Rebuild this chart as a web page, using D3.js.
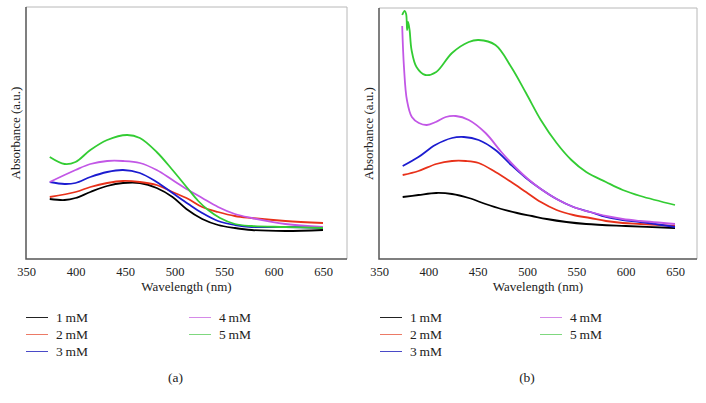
<!DOCTYPE html>
<html>
<head>
<meta charset="utf-8">
<script src="https://cdn.jsdelivr.net/npm/d3@7"></script>
<style>
  body { margin: 0; background: #fff; }
</style>
</head>
<body>
<script>
const FONT = "'Liberation Serif', 'DejaVu Serif', serif";

// wavelength ticks (nm)
const xTicks = [350, 400, 450, 500, 550, 600, 650];
const seriesNames = ["1\u2009mM", "2\u2009mM", "3\u2009mM", "4\u2009mM", "5\u2009mM"];
const colors = ["#000000", "#e8311a", "#1c1cd0", "#c257e6", "#33cc33"];
const legendColors = ["#222222", "#ec7a66", "#4a4ac8", "#d58ae8", "#7fd87f"];

// panel (a): [wavelength, absorbance a.u.]
const a1 = [[374,0.61],[389,0.60],[400,0.62],[415,0.68],[432,0.74],[448,0.77],[465,0.77],[482,0.72],[498,0.63],[512,0.51],[528,0.41],[544,0.35],[561,0.32],[578,0.30],[612,0.29],[650,0.30]];
const a2 = [[374,0.63],[400,0.68],[415,0.73],[432,0.77],[448,0.79],[465,0.78],[482,0.75],[498,0.68],[514,0.61],[528,0.53],[544,0.48],[561,0.44],[578,0.42],[612,0.39],[650,0.37]];
const a3 = [[374,0.78],[389,0.76],[400,0.77],[415,0.83],[432,0.88],[448,0.90],[465,0.87],[482,0.78],[498,0.67],[514,0.56],[528,0.47],[544,0.39],[561,0.35],[578,0.33],[612,0.33],[650,0.32]];
const a4 = [[374,0.78],[400,0.90],[415,0.96],[432,0.99],[448,0.99],[465,0.97],[482,0.90],[498,0.80],[514,0.70],[528,0.62],[544,0.53],[561,0.46],[578,0.42],[612,0.36],[650,0.33]];
const a5 = [[374,1.03],[389,0.96],[400,0.98],[415,1.10],[432,1.20],[452,1.25],[465,1.22],[482,1.08],[498,0.90],[513,0.72],[524,0.59],[534,0.50],[546,0.42],[561,0.36],[578,0.34],[612,0.33],[650,0.32]];

// panel (b)
const b1 = [[374,0.63],[390,0.65],[408,0.67],[424,0.66],[441,0.62],[458,0.56],[474,0.51],[490,0.47],[505,0.44],[520,0.41],[540,0.38],[560,0.36],[600,0.34],[650,0.32]];
const b2 = [[374,0.85],[390,0.89],[408,0.96],[424,0.99],[438,0.99],[451,0.97],[468,0.88],[484,0.78],[499,0.68],[514,0.58],[530,0.50],[547,0.45],[564,0.42],[580,0.39],[597,0.37],[615,0.36],[650,0.34]];
const b3 = [[374,0.94],[390,1.03],[407,1.15],[424,1.22],[436,1.23],[451,1.20],[468,1.10],[484,0.95],[499,0.82],[514,0.71],[530,0.61],[547,0.53],[564,0.48],[580,0.43],[597,0.40],[615,0.38],[650,0.33]];
const b4 = [[373.5,2.34],[375.3,1.93],[378.3,1.60],[383.3,1.43],[390.4,1.37],[398.5,1.35],[407.6,1.38],[417.7,1.43],[427.8,1.44],[441,1.40],[458,1.27],[474,1.08],[489,0.92],[501,0.81],[514,0.71],[530,0.61],[547,0.53],[564,0.48],[580,0.44],[597,0.41],[615,0.39],[650,0.36]];
const b5 = [[373.5,2.45],[376,2.49],[377.5,2.46],[378.5,2.30],[379.5,2.38],[381,2.30],[383,2.10],[388,1.93],[397,1.85],[408,1.88],[424,2.07],[441,2.18],[451,2.20],[468,2.15],[484,1.93],[499,1.67],[514,1.40],[530,1.17],[545,1.00],[560,0.88],[580,0.78],[597,0.70],[615,0.64],[650,0.55]];

const panels = [
  { id: "(a)", series: [a1, a2, a3, a4, a5], left: 26, right: 347, top: 7, x650: 323, legX: 26, leg2X: 189 },
  { id: "(b)", series: [b1, b2, b3, b4, b5], left: 379, right: 697, top: 8, x650: 675, legX: 380, leg2X: 540 }
];

const W = 706, H = 403, bottom = 259;

const svg = d3.select("body").append("svg")
  .attr("width", W).attr("height", H)
  .attr("font-family", FONT);

panels.forEach(function (p) {
  const x = d3.scaleLinear().domain([350, 650]).range([p.left, p.x650]);
  const y = d3.scaleLinear().domain([0, 2.53]).range([bottom + 1, 7]);

  // frame: light top/right, darker left/bottom
  svg.append("path")
    .attr("d", "M" + p.left + "," + p.top + "H" + p.right + "V" + bottom)
    .attr("fill", "none").attr("stroke", "#b8b8b8").attr("stroke-width", 1);
  svg.append("path")
    .attr("d", "M" + p.left + "," + p.top + "V" + bottom + "H" + p.right)
    .attr("fill", "none").attr("stroke", "#555").attr("stroke-width", 1.5);

  const ax = svg.append("g")
    .attr("transform", "translate(0," + bottom + ")")
    .call(d3.axisBottom(x).tickValues(xTicks).tickSize(0).tickPadding(8));
  ax.attr("font-family", FONT).attr("font-size", 12.5);
  ax.select(".domain").remove();
  ax.selectAll("text").attr("fill", "#222");

  svg.append("text")
    .attr("x", (p.left + p.right) / 2).attr("y", 291)
    .attr("text-anchor", "middle").attr("font-size", 13).attr("fill", "#222")
    .attr("font-family", FONT)
    .text("Wavelength (nm)");

  svg.append("text")
    .attr("transform", "translate(" + (p.left - 6) + "," + ((p.top + bottom) / 2) + ") rotate(-90)")
    .attr("text-anchor", "middle").attr("font-size", 13).attr("fill", "#222")
    .attr("font-family", FONT)
    .text("Absorbance (a.u.)");

  const line = d3.line()
    .x(function (d) { return x(d[0]); })
    .y(function (d) { return y(d[1]); })
    .curve(d3.curveCatmullRom.alpha(0.5));

  p.series.forEach(function (s, i) {
    svg.append("path")
      .datum(s)
      .attr("fill", "none")
      .attr("stroke", colors[i])
      .attr("stroke-width", 1.8)
      .attr("stroke-linejoin", "round")
      .attr("d", line);
  });

  // legend
  const rows = [317, 334, 351];
  seriesNames.forEach(function (name, i) {
    const col = i < 3 ? 0 : 1;
    const lx = col === 0 ? p.legX : p.leg2X;
    const ly = rows[col === 0 ? i : i - 3];
    svg.append("line")
      .attr("x1", lx).attr("x2", lx + 22)
      .attr("y1", ly + 0.5).attr("y2", ly + 0.5)
      .attr("stroke", legendColors[i]).attr("stroke-width", 1);
    svg.append("text")
      .attr("x", lx + 30).attr("y", ly).attr("dy", "0.35em")
      .attr("font-size", 13.5).attr("fill", "#222")
      .attr("font-family", FONT)
      .text(name);
  });

  svg.append("text")
    .attr("x", (p.left + p.right) / 2 - 11).attr("y", 377).attr("dy", "0.35em")
    .attr("text-anchor", "middle").attr("font-size", 13.5).attr("fill", "#222")
    .attr("font-family", FONT)
    .text(p.id);
});
</script>
</body>
</html>
